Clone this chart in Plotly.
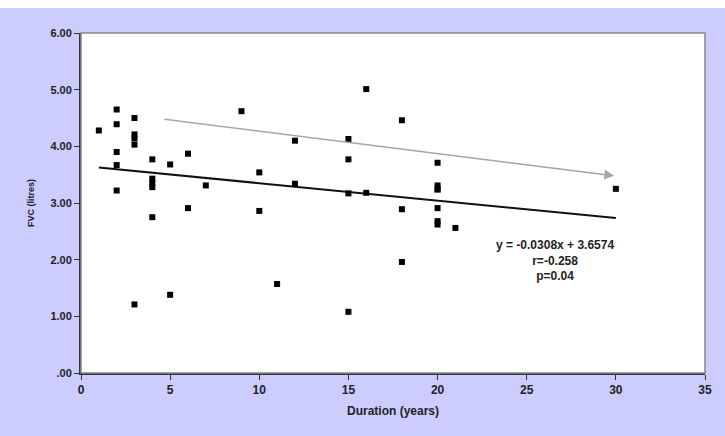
import plotly.graph_objects as go

duration = [1, 2, 2, 2, 2, 2, 3, 3, 3, 3, 3, 4, 4, 4, 4, 4, 5, 5, 6, 6, 7, 9,
            10, 10, 11, 12, 12, 15, 15, 15, 15, 16, 16, 18, 18, 18, 20, 20, 20,
            20, 20, 20, 20, 21, 30]
fvc = [4.28, 4.65, 4.39, 3.90, 3.67, 3.22, 4.50, 4.21, 4.14, 4.03, 1.21, 3.77,
       3.43, 3.35, 3.28, 2.75, 3.68, 1.38, 3.87, 2.91, 3.31, 4.62,
       3.54, 2.86, 1.57, 4.10, 3.34, 4.13, 3.77, 3.17, 1.08, 5.01, 3.18, 4.46,
       2.89, 1.96, 3.71, 3.31, 3.24, 2.91, 2.68, 2.62, 3.24, 2.56, 3.25]

slope = -0.0308
intercept = 3.6574
fit_x = [1, 30]
fit_y = [intercept + slope * v for v in fit_x]

arrow_start = (4.6, 4.48)
arrow_end = (29.9, 3.48)

y_ticks = [0, 1, 2, 3, 4, 5, 6]
y_ticktext = [".00", "1.00", "2.00", "3.00", "4.00", "5.00", "6.00"]
x_ticks = [0, 5, 10, 15, 20, 25, 30, 35]

annotation_lines = ["y = -0.0308x + 3.6574", "r=-0.258", "p=0.04"]

font_fam = "Liberation Sans, Arial, sans-serif"

fig = go.Figure()
fig.add_trace(go.Scatter(
    x=fit_x, y=fit_y, mode="lines",
    line=dict(color="#111111", width=2), hoverinfo="skip", showlegend=False))
fig.add_trace(go.Scatter(
    x=duration, y=fvc, mode="markers",
    marker=dict(symbol="square", size=6, color="black"),
    showlegend=False))

fig.add_annotation(
    x=arrow_end[0], y=arrow_end[1], ax=arrow_start[0], ay=arrow_start[1],
    xref="x", yref="y", axref="x", ayref="y", text="",
    showarrow=True, arrowhead=2, arrowsize=1.3, arrowwidth=1.5,
    arrowcolor="#a6a6a6")

fig.add_annotation(
    x=26.6, y=1.98, xref="x", yref="y",
    text="<b>" + "<br>".join(annotation_lines) + "</b>",
    showarrow=False, align="center",
    font=dict(family=font_fam, size=12, color="#222222"))

fig.add_shape(type="rect", xref="paper", yref="paper", x0=0, x1=1, y0=0, y1=1,
              line=dict(color="#888888", width=1.5), layer="above")

fig.add_shape(type="rect", xref="paper", yref="paper",
              x0=-0.2, x1=1.1, y0=1.0 + 25 / 340, y1=1.2,
              fillcolor="white", line=dict(width=0), layer="above")

fig.update_layout(
    width=725, height=436,
    margin=dict(l=81, r=20, t=33, b=63),
    paper_bgcolor="#ccccff", plot_bgcolor="white",
    font=dict(family=font_fam, color="#222222"),
    xaxis=dict(
        range=[0, 35], tickvals=x_ticks, showgrid=False, zeroline=False,
        showline=True, linecolor="#333333", linewidth=2,
        ticks="outside", ticklen=5, tickcolor="#333333",
        tickfont=dict(family=font_fam, size=12, color="#222222", weight="bold"),
        title=dict(text="<b>Duration (years)</b>", standoff=10,
                   font=dict(family=font_fam, size=12, color="#222222"))),
    yaxis=dict(
        range=[0, 6], tickvals=y_ticks, ticktext=y_ticktext, showgrid=False,
        zeroline=False, showline=True, linecolor="#333333", linewidth=2,
        ticks="outside", ticklen=5, tickcolor="#333333",
        tickfont=dict(family=font_fam, size=11, color="#222222", weight="bold"),
        title=dict(text="<b>FVC (litres)</b>", standoff=14,
                   font=dict(family=font_fam, size=9, color="#222222"))),
)

fig.write_html("out.html", config={"displayModeBar": False},
               post_script="document.body.style.margin='0px';")
